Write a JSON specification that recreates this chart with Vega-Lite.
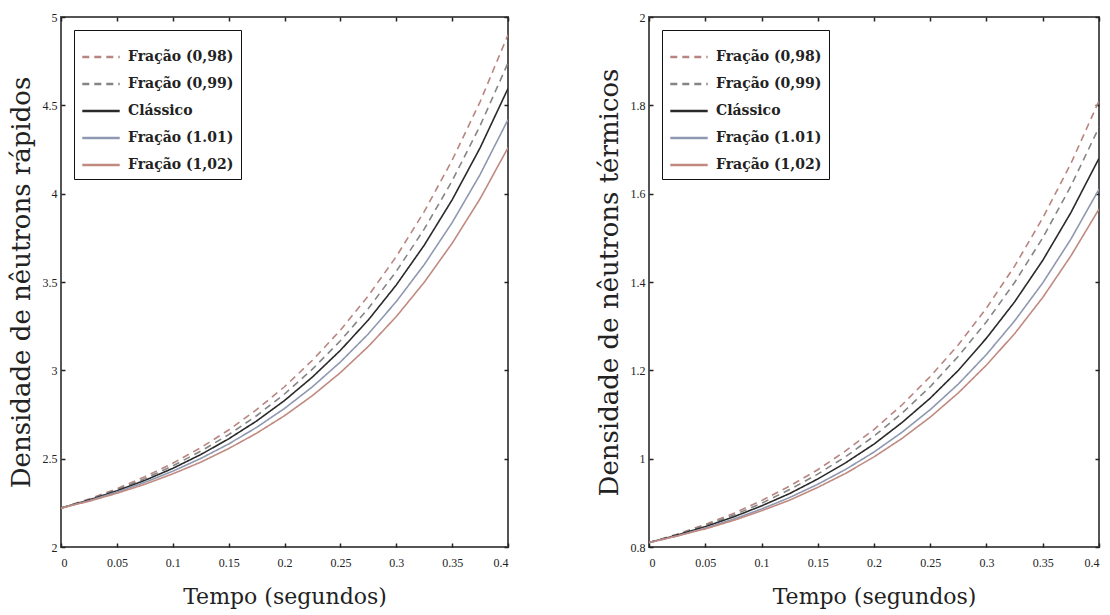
{
  "$schema": "https://vega.github.io/schema/vega-lite/v6.json",
  "background": "white",
  "padding": {"left": 7, "top": 10, "right": 3, "bottom": 5},
  "datasets": {
    "r": [
      {"s": "Fração (0,98)", "t": 0, "v": 2.22}, {"s": "Fração (0,98)", "t": 0.025, "v": 2.272}, {"s": "Fração (0,98)", "t": 0.05, "v": 2.33}, {"s": "Fração (0,98)", "t": 0.075, "v": 2.398}, {"s": "Fração (0,98)", "t": 0.1, "v": 2.474}, {"s": "Fração (0,98)", "t": 0.125, "v": 2.562}, {"s": "Fração (0,98)", "t": 0.15, "v": 2.662}, {"s": "Fração (0,98)", "t": 0.175, "v": 2.777}, {"s": "Fração (0,98)", "t": 0.2, "v": 2.907}, {"s": "Fração (0,98)", "t": 0.225, "v": 3.057}, {"s": "Fração (0,98)", "t": 0.25, "v": 3.227}, {"s": "Fração (0,98)", "t": 0.275, "v": 3.422}, {"s": "Fração (0,98)", "t": 0.3, "v": 3.644}, {"s": "Fração (0,98)", "t": 0.325, "v": 3.898}, {"s": "Fração (0,98)", "t": 0.35, "v": 4.189}, {"s": "Fração (0,98)", "t": 0.375, "v": 4.52}, {"s": "Fração (0,98)", "t": 0.4, "v": 4.899},
      {"s": "Fração (0,99)", "t": 0, "v": 2.22}, {"s": "Fração (0,99)", "t": 0.025, "v": 2.268}, {"s": "Fração (0,99)", "t": 0.05, "v": 2.324}, {"s": "Fração (0,99)", "t": 0.075, "v": 2.387}, {"s": "Fração (0,99)", "t": 0.1, "v": 2.459}, {"s": "Fração (0,99)", "t": 0.125, "v": 2.542}, {"s": "Fração (0,99)", "t": 0.15, "v": 2.636}, {"s": "Fração (0,99)", "t": 0.175, "v": 2.743}, {"s": "Fração (0,99)", "t": 0.2, "v": 2.866}, {"s": "Fração (0,99)", "t": 0.225, "v": 3.007}, {"s": "Fração (0,99)", "t": 0.25, "v": 3.167}, {"s": "Fração (0,99)", "t": 0.275, "v": 3.35}, {"s": "Fração (0,99)", "t": 0.3, "v": 3.56}, {"s": "Fração (0,99)", "t": 0.325, "v": 3.799}, {"s": "Fração (0,99)", "t": 0.35, "v": 4.072}, {"s": "Fração (0,99)", "t": 0.375, "v": 4.384}, {"s": "Fração (0,99)", "t": 0.4, "v": 4.74},
      {"s": "Clássico", "t": 0, "v": 2.22}, {"s": "Clássico", "t": 0.025, "v": 2.266}, {"s": "Clássico", "t": 0.05, "v": 2.318}, {"s": "Clássico", "t": 0.075, "v": 2.377}, {"s": "Clássico", "t": 0.1, "v": 2.445}, {"s": "Clássico", "t": 0.125, "v": 2.523}, {"s": "Clássico", "t": 0.15, "v": 2.612}, {"s": "Clássico", "t": 0.175, "v": 2.713}, {"s": "Clássico", "t": 0.2, "v": 2.829}, {"s": "Clássico", "t": 0.225, "v": 2.962}, {"s": "Clássico", "t": 0.25, "v": 3.113}, {"s": "Clássico", "t": 0.275, "v": 3.285}, {"s": "Clássico", "t": 0.3, "v": 3.483}, {"s": "Clássico", "t": 0.325, "v": 3.708}, {"s": "Clássico", "t": 0.35, "v": 3.965}, {"s": "Clássico", "t": 0.375, "v": 4.259}, {"s": "Clássico", "t": 0.4, "v": 4.595},
      {"s": "Fração (1.01)", "t": 0, "v": 2.22}, {"s": "Fração (1.01)", "t": 0.025, "v": 2.262}, {"s": "Fração (1.01)", "t": 0.05, "v": 2.311}, {"s": "Fração (1.01)", "t": 0.075, "v": 2.366}, {"s": "Fração (1.01)", "t": 0.1, "v": 2.429}, {"s": "Fração (1.01)", "t": 0.125, "v": 2.501}, {"s": "Fração (1.01)", "t": 0.15, "v": 2.583}, {"s": "Fração (1.01)", "t": 0.175, "v": 2.677}, {"s": "Fração (1.01)", "t": 0.2, "v": 2.784}, {"s": "Fração (1.01)", "t": 0.225, "v": 2.907}, {"s": "Fração (1.01)", "t": 0.25, "v": 3.047}, {"s": "Fração (1.01)", "t": 0.275, "v": 3.206}, {"s": "Fração (1.01)", "t": 0.3, "v": 3.389}, {"s": "Fração (1.01)", "t": 0.325, "v": 3.598}, {"s": "Fração (1.01)", "t": 0.35, "v": 3.836}, {"s": "Fração (1.01)", "t": 0.375, "v": 4.108}, {"s": "Fração (1.01)", "t": 0.4, "v": 4.419},
      {"s": "Fração (1,02)", "t": 0, "v": 2.22}, {"s": "Fração (1,02)", "t": 0.025, "v": 2.259}, {"s": "Fração (1,02)", "t": 0.05, "v": 2.304}, {"s": "Fração (1,02)", "t": 0.075, "v": 2.355}, {"s": "Fração (1,02)", "t": 0.1, "v": 2.414}, {"s": "Fração (1,02)", "t": 0.125, "v": 2.48}, {"s": "Fração (1,02)", "t": 0.15, "v": 2.557}, {"s": "Fração (1,02)", "t": 0.175, "v": 2.644}, {"s": "Fração (1,02)", "t": 0.2, "v": 2.743}, {"s": "Fração (1,02)", "t": 0.225, "v": 2.857}, {"s": "Fração (1,02)", "t": 0.25, "v": 2.987}, {"s": "Fração (1,02)", "t": 0.275, "v": 3.135}, {"s": "Fração (1,02)", "t": 0.3, "v": 3.304}, {"s": "Fração (1,02)", "t": 0.325, "v": 3.498}, {"s": "Fração (1,02)", "t": 0.35, "v": 3.719}, {"s": "Fração (1,02)", "t": 0.375, "v": 3.971}, {"s": "Fração (1,02)", "t": 0.4, "v": 4.26}
    ],
    "th": [
      {"s": "Fração (0,98)", "t": 0, "v": 0.81}, {"s": "Fração (0,98)", "t": 0.025, "v": 0.829}, {"s": "Fração (0,98)", "t": 0.05, "v": 0.851}, {"s": "Fração (0,98)", "t": 0.075, "v": 0.876}, {"s": "Fração (0,98)", "t": 0.1, "v": 0.905}, {"s": "Fração (0,98)", "t": 0.125, "v": 0.938}, {"s": "Fração (0,98)", "t": 0.15, "v": 0.975}, {"s": "Fração (0,98)", "t": 0.175, "v": 1.018}, {"s": "Fração (0,98)", "t": 0.2, "v": 1.066}, {"s": "Fração (0,98)", "t": 0.225, "v": 1.122}, {"s": "Fração (0,98)", "t": 0.25, "v": 1.186}, {"s": "Fração (0,98)", "t": 0.275, "v": 1.258}, {"s": "Fração (0,98)", "t": 0.3, "v": 1.341}, {"s": "Fração (0,98)", "t": 0.325, "v": 1.436}, {"s": "Fração (0,98)", "t": 0.35, "v": 1.545}, {"s": "Fração (0,98)", "t": 0.375, "v": 1.668}, {"s": "Fração (0,98)", "t": 0.4, "v": 1.81},
      {"s": "Fração (0,99)", "t": 0, "v": 0.81}, {"s": "Fração (0,99)", "t": 0.025, "v": 0.828}, {"s": "Fração (0,99)", "t": 0.05, "v": 0.849}, {"s": "Fração (0,99)", "t": 0.075, "v": 0.872}, {"s": "Fração (0,99)", "t": 0.1, "v": 0.899}, {"s": "Fração (0,99)", "t": 0.125, "v": 0.93}, {"s": "Fração (0,99)", "t": 0.15, "v": 0.965}, {"s": "Fração (0,99)", "t": 0.175, "v": 1.005}, {"s": "Fração (0,99)", "t": 0.2, "v": 1.051}, {"s": "Fração (0,99)", "t": 0.225, "v": 1.103}, {"s": "Fração (0,99)", "t": 0.25, "v": 1.163}, {"s": "Fração (0,99)", "t": 0.275, "v": 1.232}, {"s": "Fração (0,99)", "t": 0.3, "v": 1.31}, {"s": "Fração (0,99)", "t": 0.325, "v": 1.399}, {"s": "Fração (0,99)", "t": 0.35, "v": 1.5}, {"s": "Fração (0,99)", "t": 0.375, "v": 1.617}, {"s": "Fração (0,99)", "t": 0.4, "v": 1.75},
      {"s": "Clássico", "t": 0, "v": 0.81}, {"s": "Clássico", "t": 0.025, "v": 0.827}, {"s": "Clássico", "t": 0.05, "v": 0.846}, {"s": "Clássico", "t": 0.075, "v": 0.868}, {"s": "Clássico", "t": 0.1, "v": 0.893}, {"s": "Clássico", "t": 0.125, "v": 0.921}, {"s": "Clássico", "t": 0.15, "v": 0.954}, {"s": "Clássico", "t": 0.175, "v": 0.991}, {"s": "Clássico", "t": 0.2, "v": 1.033}, {"s": "Clássico", "t": 0.225, "v": 1.082}, {"s": "Clássico", "t": 0.25, "v": 1.137}, {"s": "Clássico", "t": 0.275, "v": 1.2}, {"s": "Clássico", "t": 0.3, "v": 1.273}, {"s": "Clássico", "t": 0.325, "v": 1.355}, {"s": "Clássico", "t": 0.35, "v": 1.449}, {"s": "Clássico", "t": 0.375, "v": 1.557}, {"s": "Clássico", "t": 0.4, "v": 1.68},
      {"s": "Fração (1.01)", "t": 0, "v": 0.81}, {"s": "Fração (1.01)", "t": 0.025, "v": 0.825}, {"s": "Fração (1.01)", "t": 0.05, "v": 0.843}, {"s": "Fração (1.01)", "t": 0.075, "v": 0.863}, {"s": "Fração (1.01)", "t": 0.1, "v": 0.886}, {"s": "Fração (1.01)", "t": 0.125, "v": 0.912}, {"s": "Fração (1.01)", "t": 0.15, "v": 0.942}, {"s": "Fração (1.01)", "t": 0.175, "v": 0.976}, {"s": "Fração (1.01)", "t": 0.2, "v": 1.015}, {"s": "Fração (1.01)", "t": 0.225, "v": 1.06}, {"s": "Fração (1.01)", "t": 0.25, "v": 1.111}, {"s": "Fração (1.01)", "t": 0.275, "v": 1.169}, {"s": "Fração (1.01)", "t": 0.3, "v": 1.236}, {"s": "Fração (1.01)", "t": 0.325, "v": 1.312}, {"s": "Fração (1.01)", "t": 0.35, "v": 1.398}, {"s": "Fração (1.01)", "t": 0.375, "v": 1.497}, {"s": "Fração (1.01)", "t": 0.4, "v": 1.61},
      {"s": "Fração (1,02)", "t": 0, "v": 0.81}, {"s": "Fração (1,02)", "t": 0.025, "v": 0.825}, {"s": "Fração (1,02)", "t": 0.05, "v": 0.841}, {"s": "Fração (1,02)", "t": 0.075, "v": 0.86}, {"s": "Fração (1,02)", "t": 0.1, "v": 0.882}, {"s": "Fração (1,02)", "t": 0.125, "v": 0.906}, {"s": "Fração (1,02)", "t": 0.15, "v": 0.935}, {"s": "Fração (1,02)", "t": 0.175, "v": 0.967}, {"s": "Fração (1,02)", "t": 0.2, "v": 1.004}, {"s": "Fração (1,02)", "t": 0.225, "v": 1.046}, {"s": "Fração (1,02)", "t": 0.25, "v": 1.094}, {"s": "Fração (1,02)", "t": 0.275, "v": 1.149}, {"s": "Fração (1,02)", "t": 0.3, "v": 1.212}, {"s": "Fração (1,02)", "t": 0.325, "v": 1.283}, {"s": "Fração (1,02)", "t": 0.35, "v": 1.365}, {"s": "Fração (1,02)", "t": 0.375, "v": 1.459}, {"s": "Fração (1,02)", "t": 0.4, "v": 1.565}
    ]
  },
  "spacing": 85,
  "resolve": {"legend": {"color": "independent", "strokeDash": "independent"}},
  "hconcat": [
    {
      "width": 447,
      "height": 530,
      "data": {"name": "r"},
      "resolve": {"axis": {"x": "independent", "y": "independent"}},
      "layer": [
        {
          "mark": {"type": "line", "strokeWidth": 1.6, "clip": true},
          "encoding": {
            "x": {"field": "t", "type": "quantitative", "scale": {"domain": [0, 0.4], "nice": false}, "axis": {"values": [0, 0.05, 0.1, 0.15, 0.2, 0.25, 0.3, 0.35, 0.4], "format": ".2~f", "title": "Tempo (segundos)"}},
            "y": {"field": "v", "type": "quantitative", "scale": {"domain": [2, 5], "nice": false, "zero": false}, "axis": {"values": [2, 2.5, 3, 3.5, 4, 4.5, 5], "format": ".1~f", "title": "Densidade de nêutrons rápidos"}},
            "color": {"field": "s", "type": "nominal", "sort": null, "scale": {"domain": ["Fração (0,98)", "Fração (0,99)", "Clássico", "Fração (1.01)", "Fração (1,02)"], "range": ["#b98580", "#858585", "#2a2a2a", "#8e98b0", "#c08a80"]}, "legend": {"title": null}},
            "strokeDash": {"field": "s", "type": "nominal", "sort": null, "scale": {"domain": ["Fração (0,98)", "Fração (0,99)", "Clássico", "Fração (1.01)", "Fração (1,02)"], "range": [[7, 5], [7, 5], [1, 0], [1, 0], [1, 0]]}, "legend": {"title": null}}
          }
        },
        {
          "mark": {"type": "line", "strokeOpacity": 0, "clip": true},
          "encoding": {
            "x": {"field": "t", "type": "quantitative", "scale": {"domain": [0, 0.4], "nice": false}, "axis": {"orient": "top", "values": [0, 0.05, 0.1, 0.15, 0.2, 0.25, 0.3, 0.35, 0.4], "labels": false, "title": null}},
            "y": {"field": "v", "type": "quantitative", "scale": {"domain": [2, 5], "nice": false, "zero": false}, "axis": {"orient": "right", "values": [2, 2.5, 3, 3.5, 4, 4.5, 5], "labels": false, "title": null}}
          }
        }
      ]
    },
    {
      "width": 450,
      "height": 530,
      "data": {"name": "th"},
      "resolve": {"axis": {"x": "independent", "y": "independent"}},
      "layer": [
        {
          "mark": {"type": "line", "strokeWidth": 1.6, "clip": true},
          "encoding": {
            "x": {"field": "t", "type": "quantitative", "scale": {"domain": [0, 0.4], "nice": false}, "axis": {"values": [0, 0.05, 0.1, 0.15, 0.2, 0.25, 0.3, 0.35, 0.4], "format": ".2~f", "title": "Tempo (segundos)"}},
            "y": {"field": "v", "type": "quantitative", "scale": {"domain": [0.8, 2], "nice": false, "zero": false}, "axis": {"values": [0.8, 1, 1.2, 1.4, 1.6, 1.8, 2], "format": ".1~f", "title": "Densidade de nêutrons térmicos"}},
            "color": {"field": "s", "type": "nominal", "sort": null, "scale": {"domain": ["Fração (0,98)", "Fração (0,99)", "Clássico", "Fração (1.01)", "Fração (1,02)"], "range": ["#b98580", "#858585", "#2a2a2a", "#8e98b0", "#c08a80"]}, "legend": {"title": null}},
            "strokeDash": {"field": "s", "type": "nominal", "sort": null, "scale": {"domain": ["Fração (0,98)", "Fração (0,99)", "Clássico", "Fração (1.01)", "Fração (1,02)"], "range": [[7, 5], [7, 5], [1, 0], [1, 0], [1, 0]]}, "legend": {"title": null}}
          }
        },
        {
          "mark": {"type": "line", "strokeOpacity": 0, "clip": true},
          "encoding": {
            "x": {"field": "t", "type": "quantitative", "scale": {"domain": [0, 0.4], "nice": false}, "axis": {"orient": "top", "values": [0, 0.05, 0.1, 0.15, 0.2, 0.25, 0.3, 0.35, 0.4], "labels": false, "title": null}},
            "y": {"field": "v", "type": "quantitative", "scale": {"domain": [0.8, 2], "nice": false, "zero": false}, "axis": {"orient": "right", "values": [0.8, 1, 1.2, 1.4, 1.6, 1.8, 2], "labels": false, "title": null}}
          }
        }
      ]
    }
  ],
  "config": {
    "view": {"stroke": "#555", "strokeWidth": 2},
    "axis": {
      "domain": false,
      "grid": false,
      "ticks": true,
      "tickSize": -4,
      "tickColor": "#222",
      "tickWidth": 1.5,
      "labelFont": "Liberation Sans Narrow",
      "labelFontSize": 12,
      "labelColor": "#222",
      "titleFont": "DejaVu Serif",
      "titleFontWeight": "normal",
      "titleColor": "#222"
    },
    "axisX": {"titlePadding": 18, "labelPadding": 14, "titleFontSize": 22},
    "axisY": {"titlePadding": 8, "labelPadding": 8, "titleFontSize": 26},
    "legend": {
      "orient": "top-left",
      "offset": 13,
      "padding": 7,
      "strokeColor": "#111",
      "fillColor": "white",
      "symbolType": "stroke",
      "symbolStrokeWidth": 2.5,
      "symbolSize": 1400,
      "rowPadding": 0,
      "labelFont": "DejaVu Serif",
      "labelFontSize": 14,
      "labelFontWeight": "bold",
      "labelColor": "#222",
      "labelOffset": 7
    }
  }
}
